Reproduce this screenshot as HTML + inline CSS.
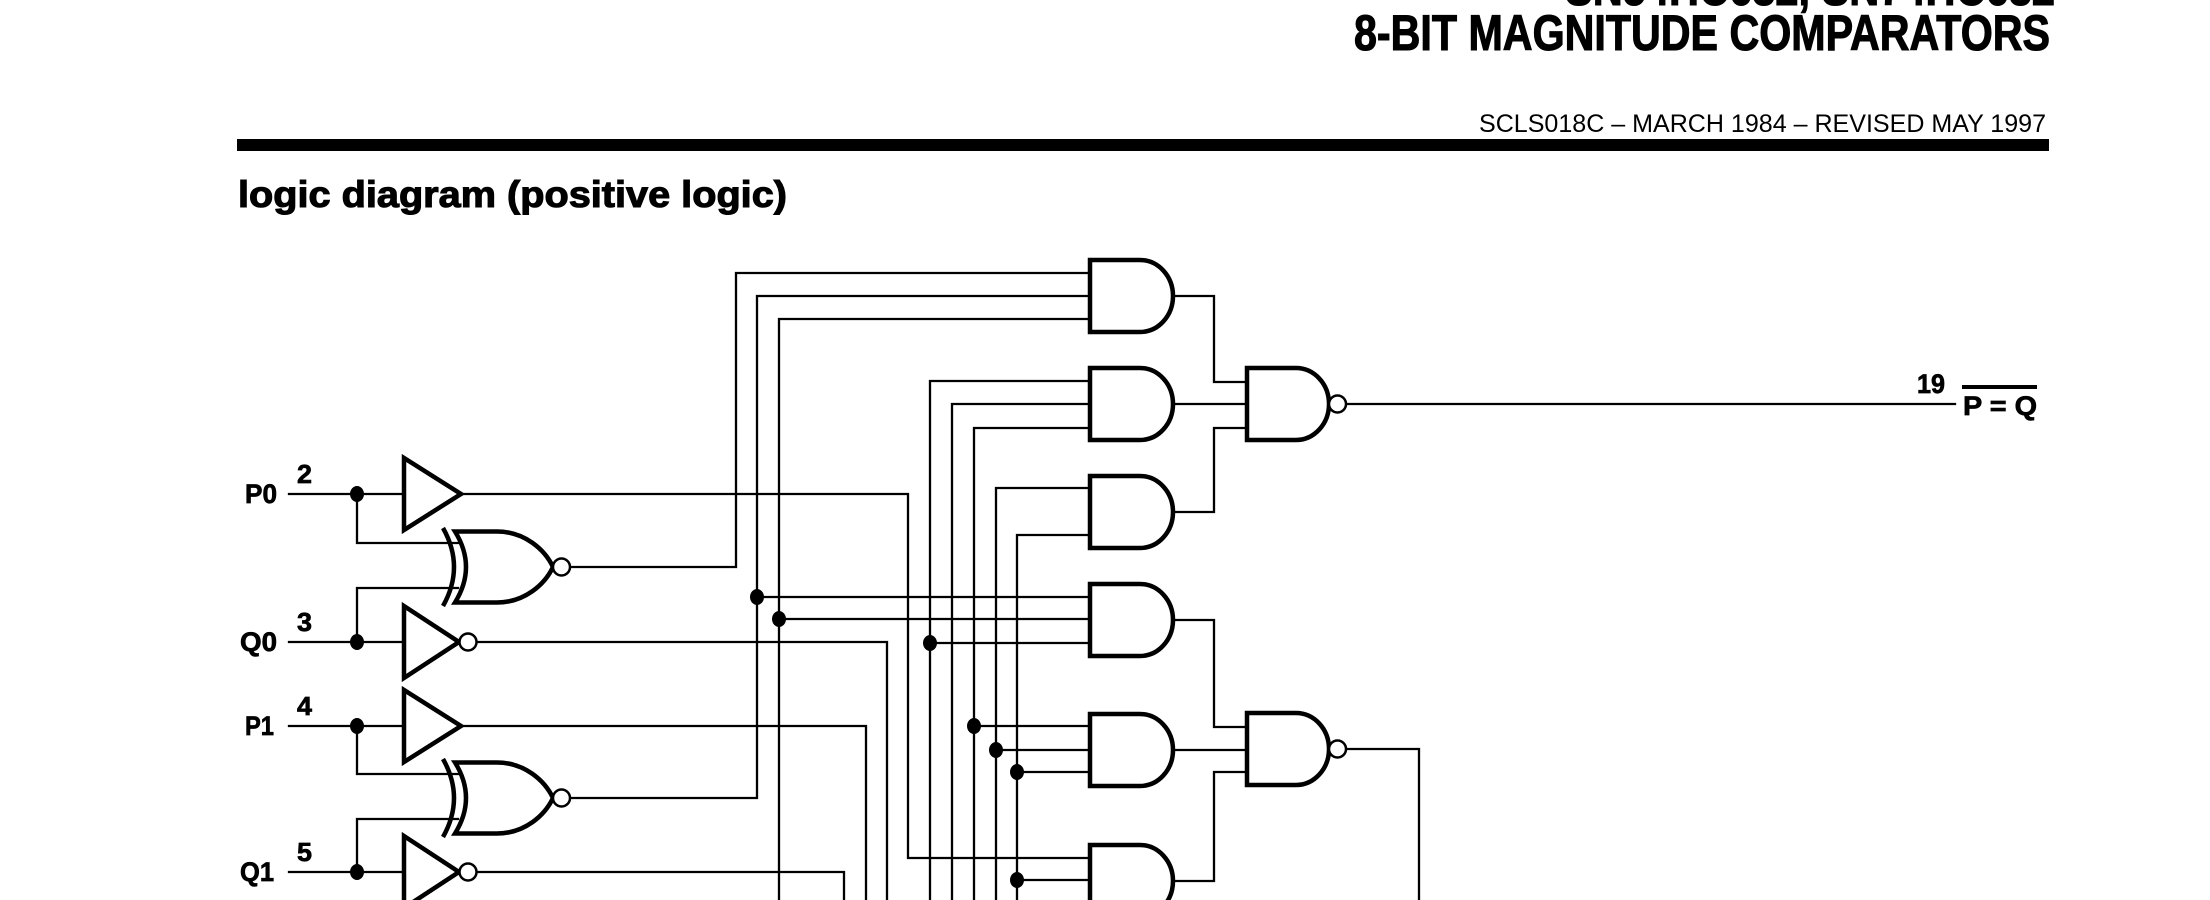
<!DOCTYPE html>
<html>
<head>
<meta charset="utf-8">
<style>
  html, body { margin:0; padding:0; background:#fff; }
  body { width:2210px; height:900px; overflow:hidden; }
  svg { display:block; }
  text { font-family:"Liberation Sans", Arial, sans-serif; font-weight:bold; fill:#000; }
  .hv { stroke:#000; stroke-width:1.1; }
  .hv2 { stroke:#000; stroke-width:0.7; }
</style>
</head>
<body>
<svg xmlns="http://www.w3.org/2000/svg" width="2210" height="900" viewBox="0 0 2210 900">
  <rect x="0" y="0" width="2210" height="900" fill="#fff"/>

  <!-- Header -->
  <text class="hv" x="1565" y="5" font-size="50" textLength="490" lengthAdjust="spacingAndGlyphs">SN54HC682, SN74HC682</text>
  <text class="hv" x="1354" y="50" font-size="50" textLength="696" lengthAdjust="spacingAndGlyphs">8-BIT MAGNITUDE COMPARATORS</text>
  <text x="1479" y="132" font-size="25" font-weight="normal" style="font-weight:normal" textLength="567" lengthAdjust="spacingAndGlyphs">SCLS018C – MARCH 1984 – REVISED MAY 1997</text>
  <rect x="237" y="139" width="1812" height="12" fill="#000"/>
  <text class="hv" x="238" y="207" font-size="37" textLength="549" lengthAdjust="spacingAndGlyphs">logic diagram (positive logic)</text>

  <!-- Input labels -->
  <g>
  <text class="hv2" x="245" y="503" font-size="27" textLength="32" lengthAdjust="spacingAndGlyphs">P0</text>
  <text class="hv2" x="297" y="483" font-size="26" textLength="15" lengthAdjust="spacingAndGlyphs">2</text>
  <text class="hv2" x="240" y="651" font-size="27" textLength="37" lengthAdjust="spacingAndGlyphs">Q0</text>
  <text class="hv2" x="297" y="631" font-size="26" textLength="15" lengthAdjust="spacingAndGlyphs">3</text>
  <text class="hv2" x="245" y="735" font-size="27" textLength="29" lengthAdjust="spacingAndGlyphs">P1</text>
  <text class="hv2" x="297" y="715" font-size="26" textLength="15" lengthAdjust="spacingAndGlyphs">4</text>
  <text class="hv2" x="240" y="881" font-size="27" textLength="34" lengthAdjust="spacingAndGlyphs">Q1</text>
  <text class="hv2" x="297" y="861" font-size="26" textLength="15" lengthAdjust="spacingAndGlyphs">5</text>
  </g>

  <!-- Output label -->
  <text class="hv2" x="1917" y="393" font-size="27" textLength="28" lengthAdjust="spacingAndGlyphs">19</text>
  <rect x="1962" y="385" width="75" height="4" fill="#000"/>
  <text class="hv2" x="1963" y="415" font-size="27" textLength="74" lengthAdjust="spacingAndGlyphs">P = Q</text>

  <!-- Wires -->
  <g fill="none" stroke="#000" stroke-width="2.3" stroke-linejoin="miter" stroke-linecap="square">
    <path d="M289,494 H404"/>
    <path d="M461,494 H908 V858 H1090"/>
    <path d="M357,494 V543 H458"/>
    <path d="M357,642 V588 H458"/>
    <path d="M289,642 H404"/>
    <path d="M477,642 H887 V902"/>
    <path d="M289,726 H404"/>
    <path d="M461,726 H866 V902"/>
    <path d="M357,726 V774 H458"/>
    <path d="M357,872 V819 H458"/>
    <path d="M289,872 H404"/>
    <path d="M477,872 H844 V902"/>
    <path d="M570,567 H736 V273 H1090"/>
    <path d="M570,798 H757 V296 H1090"/>
    <path d="M779,902 V319 H1090"/>
    <path d="M930,902 V381 H1090"/>
    <path d="M952,902 V404 H1090"/>
    <path d="M974,902 V428 H1090"/>
    <path d="M996,902 V488 H1090"/>
    <path d="M1017,902 V535 H1090"/>
    <path d="M757,597 H1090"/>
    <path d="M779,619 H1090"/>
    <path d="M930,643 H1090"/>
    <path d="M974,726 H1090"/>
    <path d="M996,750 H1090"/>
    <path d="M1017,772 H1090"/>
    <path d="M1017,880 H1090"/>
    <path d="M1173,296 H1214 V382 H1247"/>
    <path d="M1173,404 H1247"/>
    <path d="M1173,512 H1214 V428 H1247"/>
    <path d="M1346,404 H1955"/>
    <path d="M1173,620 H1214 V727 H1246"/>
    <path d="M1173,750 H1246"/>
    <path d="M1173,881 H1214 V772 H1246"/>
    <path d="M1346,749 H1419 V902"/>
  </g>

  <!-- Junction dots -->
  <g fill="#000">
    <ellipse cx="357" cy="494" rx="7" ry="8"/>
    <ellipse cx="357" cy="642" rx="7" ry="8"/>
    <ellipse cx="357" cy="726" rx="7" ry="8"/>
    <ellipse cx="357" cy="872" rx="7" ry="8"/>
    <ellipse cx="757" cy="597" rx="7" ry="8"/>
    <ellipse cx="779" cy="619" rx="7" ry="8"/>
    <ellipse cx="930" cy="643" rx="7" ry="8"/>
    <ellipse cx="974" cy="726" rx="7" ry="8"/>
    <ellipse cx="996" cy="750" rx="7" ry="8"/>
    <ellipse cx="1017" cy="772" rx="7" ry="8"/>
    <ellipse cx="1017" cy="880" rx="7" ry="8"/>
  </g>

  <!-- Gates -->
  <g fill="#fff" stroke="#000" stroke-width="4.5" stroke-linejoin="miter">
    <!-- Buffers / inverters -->
    <polygon points="404,458 404,530 461,494"/>
    <polygon points="404,606 404,678 459,642"/>
    <polygon points="404,690 404,762 461,726"/>
    <polygon points="404,836 404,908 459,872"/>

    <!-- XNOR 0 -->
    <path d="M455,531.5 H497 C525,531.5 545,550 553,567 C545,584 525,602.5 497,602.5 H455 Q477,567 455,531.5 Z"/>
    <path d="M443,528 Q465,567 443,606" fill="none"/>
    <!-- XNOR 1 -->
    <path d="M455,762.5 H497 C525,762.5 545,781 553,798 C545,815 525,833.5 497,833.5 H455 Q477,798 455,762.5 Z"/>
    <path d="M443,759 Q465,798 443,837" fill="none"/>

    <!-- AND gates -->
    <path d="M1090,260 H1140 A33,36 0 0 1 1140,332 H1090 Z"/>
    <path d="M1090,368 H1140 A33,36 0 0 1 1140,440 H1090 Z"/>
    <path d="M1090,476 H1140 A33,36 0 0 1 1140,548 H1090 Z"/>
    <path d="M1090,584 H1140 A33,36 0 0 1 1140,656 H1090 Z"/>
    <path d="M1090,714 H1140 A33,36 0 0 1 1140,786 H1090 Z"/>
    <path d="M1090,845 H1140 A33,36 0 0 1 1140,917 H1090 Z"/>

    <!-- NAND gates -->
    <path d="M1247,368 H1296 A33,36 0 0 1 1296,440 H1247 Z"/>
    <path d="M1247,713 H1296 A33,36 0 0 1 1296,785 H1247 Z"/>
  </g>

  <!-- Bubbles -->
  <g fill="#fff" stroke="#000" stroke-width="2.5">
    <circle cx="468" cy="642" r="8.5"/>
    <circle cx="468" cy="872" r="8.5"/>
    <circle cx="561.5" cy="567" r="8.5"/>
    <circle cx="561.5" cy="798" r="8.5"/>
    <circle cx="1337.5" cy="404" r="8.5"/>
    <circle cx="1337.5" cy="749" r="8.5"/>
  </g>
</svg>
</body>
</html>
